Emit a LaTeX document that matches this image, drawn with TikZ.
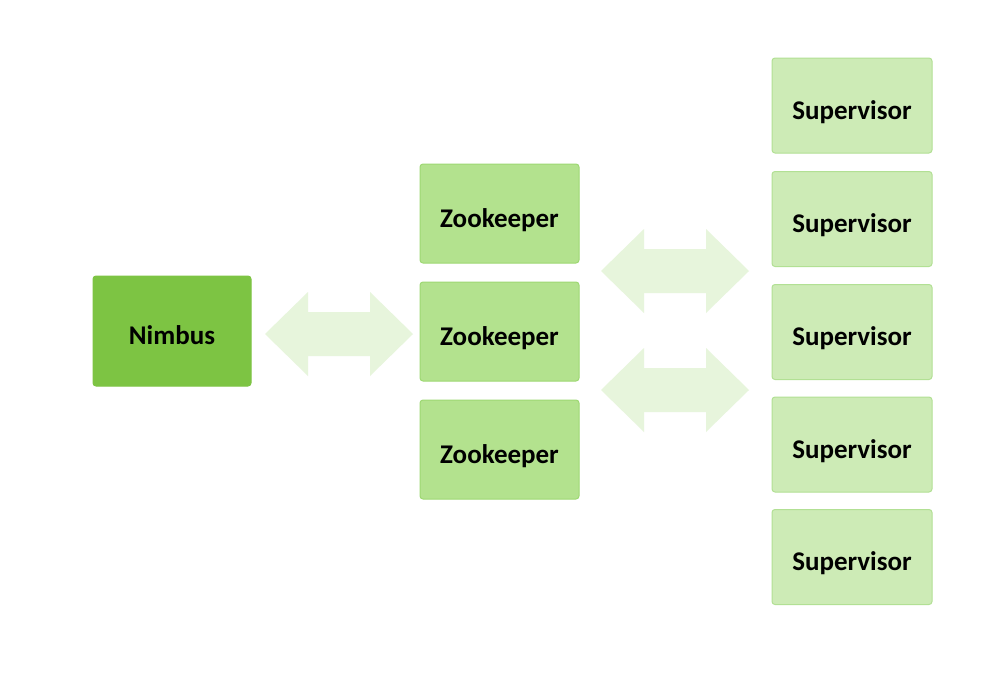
\documentclass[tikz,border=0pt]{standalone}
\usepackage{fontspec}
\setmainfont{Carlito}
\definecolor{nimbusfill}{HTML}{7DC443}
\definecolor{zkfill}{HTML}{B3E28E}
\definecolor{zkdraw}{HTML}{9ED873}
\definecolor{supfill}{HTML}{CDEBB6}
\definecolor{supdraw}{HTML}{B2E094}
\definecolor{arrfill}{HTML}{E7F5DC}
\tikzset{
  box/.style={rectangle, rounded corners=3pt, inner sep=0pt, line width=1pt,
    font=\bfseries\fontsize{27}{30}\selectfont, text=black, text height=27pt, text depth=0pt},
  nimbusbox/.style={box, fill=nimbusfill, draw=nimbusfill, minimum width=158pt, minimum height=110pt},
  zkbox/.style={box, fill=zkfill, draw=zkdraw, minimum width=159pt, minimum height=99pt},
  supbox/.style={box, fill=supfill, draw=supdraw, minimum width=160pt, minimum height=95pt},
  blockarrow/.style={fill=arrfill, draw=none}
}
% double block arrow centred at a named coordinate: #1 name
\newcommand{\dblarrow}[1]{%
  \fill[blockarrow] ([xshift=-74pt]#1) -- ([xshift=-31pt,yshift=42pt]#1) -- ([xshift=-31pt,yshift=22pt]#1)
    -- ([xshift=31pt,yshift=22pt]#1) -- ([xshift=31pt,yshift=42pt]#1) -- ([xshift=74pt]#1)
    -- ([xshift=31pt,yshift=-42pt]#1) -- ([xshift=31pt,yshift=-22pt]#1) -- ([xshift=-31pt,yshift=-22pt]#1)
    -- ([xshift=-31pt,yshift=-42pt]#1) -- cycle;}
\begin{document}
\begin{tikzpicture}[x=1pt,y=1pt]
\useasboundingbox (0,0) rectangle (998,-678);
\fill[white] (0,0) rectangle (998,-678);
\node[nimbusbox] (nimbus) at (172,-331) {Nimbus};
\node[zkbox] (zk1) at (499.5,-213.5) {Zookeeper};
\node[zkbox] (zk2) at (499.5,-331.5) {Zookeeper};
\node[zkbox] (zk3) at (499.5,-449.5) {Zookeeper};
\node[supbox] (s1) at (852,-105.5) {Supervisor};
\node[supbox] (s2) at (852,-219) {Supervisor};
\node[supbox] (s3) at (852,-332) {Supervisor};
\node[supbox] (s4) at (852,-444.5) {Supervisor};
\node[supbox] (s5) at (852,-557) {Supervisor};
\coordinate (a1) at (339,-334);
\coordinate (a2) at (675,-271);
\coordinate (a3) at (675,-390);
\dblarrow{a1}
\dblarrow{a2}
\dblarrow{a3}
\end{tikzpicture}
\end{document}
